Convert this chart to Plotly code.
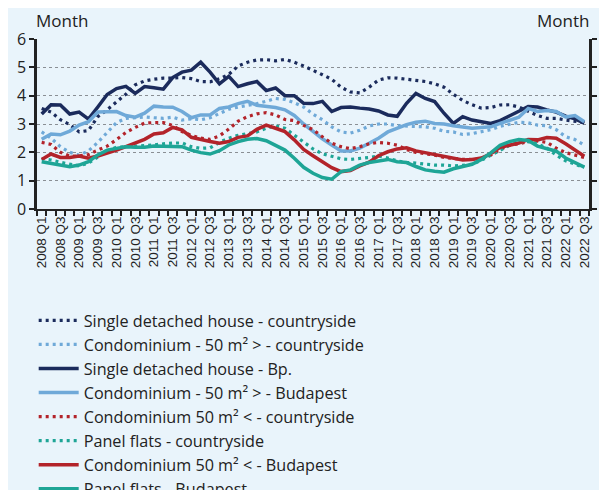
import plotly.graph_objects as go

quarters = [f"{y} Q{q}" for y in range(2008, 2023) for q in range(1, 5)][:59]
tick_labels = quarters[::2]

sdh_country = [3.55, 3.42, 3.15, 2.98, 2.72, 2.77, 3.26, 3.5, 3.78, 4.05, 4.38, 4.52, 4.58, 4.62, 4.62,
               4.64, 4.6, 4.5, 4.49, 4.6, 4.75, 5.05, 5.18, 5.26, 5.27, 5.23, 5.28, 5.18, 5.05, 4.88,
               4.74, 4.58, 4.3, 4.13, 4.1, 4.3, 4.55, 4.63, 4.62, 4.58, 4.55, 4.5, 4.42, 4.3, 4.05,
               3.83, 3.68, 3.56, 3.58, 3.67, 3.68, 3.6, 3.45, 3.3, 3.2, 3.2, 3.14, 3.1, 3.05]
condo_big_country = [2.72, 2.5, 2.2, 2.0, 1.9, 2.05, 2.35, 2.7, 3.05, 3.2, 3.22, 3.25, 3.22, 3.2, 3.24,
                     3.14, 3.18, 3.15, 3.22, 3.38, 3.52, 3.6, 3.65, 3.72, 3.8, 3.9, 3.87, 3.75, 3.6, 3.35,
                     3.15, 2.9, 2.72, 2.68, 2.78, 2.93, 3.0, 3.0, 2.94, 2.93, 2.93, 2.9, 2.85, 2.74, 2.72,
                     2.63, 2.66, 2.73, 2.8, 2.92, 3.0, 3.06, 3.04, 2.96, 2.94, 2.8, 2.55, 2.45, 2.25]
sdh_bp = [3.35, 3.68, 3.67, 3.35, 3.42, 3.17, 3.6, 4.04, 4.25, 4.33, 4.08, 4.32, 4.28, 4.23, 4.64,
          4.83, 4.9, 5.18, 4.83, 4.42, 4.68, 4.32, 4.42, 4.5, 4.18, 4.27, 4.0, 4.0, 3.73, 3.72,
          3.8, 3.44, 3.58, 3.6, 3.56, 3.53, 3.46, 3.32, 3.27, 3.73, 4.08, 3.9, 3.79, 3.38, 3.02,
          3.26, 3.14, 3.08, 3.02, 3.12, 3.27, 3.45, 3.62, 3.6, 3.5, 3.42, 3.28, 3.18, 3.03]
condo_big_bp = [2.46, 2.65, 2.62, 2.75, 2.96, 3.08, 3.42, 3.44, 3.44, 3.3, 3.24, 3.38, 3.63, 3.6, 3.59,
                3.44, 3.22, 3.32, 3.32, 3.55, 3.6, 3.72, 3.8, 3.66, 3.62, 3.58, 3.5, 3.3, 3.0, 2.72,
                2.48, 2.26, 2.05, 2.05, 2.15, 2.32, 2.5, 2.72, 2.85, 2.98, 3.06, 3.1, 3.02, 3.0, 2.94,
                2.88, 2.85, 2.88, 2.9, 3.02, 3.12, 3.24, 3.55, 3.44, 3.48, 3.44, 3.25, 3.3, 3.08]
condo_small_country = [2.35, 2.28, 2.0, 1.87, 1.87, 1.92, 2.08, 2.22, 2.45, 2.7, 2.88, 3.03, 3.05, 3.05, 2.95,
                       2.73, 2.6, 2.5, 2.46, 2.58, 2.82, 3.1, 3.26, 3.36, 3.4, 3.32, 3.16, 3.12, 2.95, 2.8,
                       2.55, 2.32, 2.2, 2.13, 2.2, 2.3, 2.35, 2.32, 2.25, 2.1, 2.0, 1.96, 1.9, 1.82, 1.78,
                       1.75, 1.75, 1.78, 1.9, 2.1, 2.25, 2.3, 2.38, 2.4, 2.35, 2.15, 1.99, 1.9, 1.82]
panel_country = [1.78, 1.73, 1.65, 1.58, 1.52, 1.62, 1.85, 2.05, 2.18, 2.2, 2.2, 2.22, 2.26, 2.3, 2.33,
                 2.33, 2.2, 2.14, 2.16, 2.35, 2.5, 2.6, 2.66, 2.72, 2.85, 2.93, 2.85, 2.6, 2.35, 2.12,
                 1.95, 1.86, 1.77, 1.75, 1.78, 1.82, 1.87, 1.8, 1.7, 1.64, 1.62, 1.58, 1.55, 1.55, 1.52,
                 1.54, 1.58, 1.72, 1.9, 2.05, 2.25, 2.35, 2.38, 2.3, 2.15, 1.9, 1.7, 1.58, 1.47]
condo_small_bp = [1.75, 1.94, 1.82, 1.82, 1.87, 1.79, 1.87, 1.96, 2.08, 2.2, 2.32, 2.46, 2.65, 2.69, 2.88,
                  2.79, 2.53, 2.44, 2.38, 2.32, 2.38, 2.53, 2.58, 2.81, 2.96, 2.85, 2.73, 2.44, 2.1, 1.88,
                  1.68, 1.46, 1.32, 1.36, 1.52, 1.65, 1.88, 2.02, 2.12, 2.16, 2.05, 1.99, 1.92, 1.84, 1.8,
                  1.73, 1.75, 1.8, 1.95, 2.18, 2.25, 2.33, 2.45, 2.44, 2.52, 2.5, 2.3, 2.08, 1.86]
panel_bp = [1.67, 1.61, 1.55, 1.49, 1.55, 1.67, 1.91, 2.08, 2.14, 2.2, 2.18, 2.18, 2.22, 2.22, 2.22,
            2.2, 2.08, 1.99, 1.94, 2.06, 2.26, 2.38, 2.46, 2.49, 2.41, 2.26, 2.08, 1.79, 1.47, 1.26,
            1.11, 1.05, 1.32, 1.38, 1.55, 1.64, 1.69, 1.75, 1.67, 1.64, 1.5, 1.38, 1.33, 1.3, 1.42,
            1.5, 1.58, 1.75, 1.98, 2.25, 2.38, 2.45, 2.42, 2.22, 2.14, 2.04, 1.8, 1.64, 1.48]

NAVY = "#1b2b5c"
LBLUE = "#6fa9d8"
RED = "#b3232a"
TEAL = "#1ea596"
BG = "#e9f4fb"

series = [
    ("Single detached house - countryside", sdh_country, NAVY, "dot"),
    ("Condominium - 50 m² > - countryside", condo_big_country, LBLUE, "dot"),
    ("Single detached house - Bp.", sdh_bp, NAVY, "solid"),
    ("Condominium - 50 m² > - Budapest", condo_big_bp, LBLUE, "solid"),
    ("Condominium 50 m² < - countryside", condo_small_country, RED, "dot"),
    ("Panel flats - countryside", panel_country, TEAL, "dot"),
    ("Condominium 50 m² < - Budapest", condo_small_bp, RED, "solid"),
    ("Panel flats - Budapest", panel_bp, TEAL, "solid"),
]

xs = list(range(len(quarters)))
fig = go.Figure()
for name, vals, col, dash in series:
    fig.add_trace(go.Scatter(
        x=xs, y=vals, name=name, mode="lines",
        line=dict(color=col, width=3.5 if dash == "solid" else 3.2,
                  dash="3px,4px" if dash == "dot" else "solid"),
        customdata=quarters, hovertemplate="%{customdata}: %{y}<extra>" + name + "</extra>",
    ))
# right axis companion
fig.add_trace(go.Scatter(x=[xs[0]], y=[None], yaxis="y2", showlegend=False, hoverinfo="skip"))

tickfont = dict(family="Open Sans, sans-serif", size=16, color="#222")
fig.update_layout(
    width=599, height=482,
    margin=dict(l=29, r=18, t=31, b=281, pad=0, autoexpand=False),
    paper_bgcolor=BG, plot_bgcolor=BG,
    font=dict(family="Open Sans, sans-serif", color="#222"),
    xaxis=dict(
        range=[-0.5, len(quarters) - 0.5], automargin=False,
        tickmode="array", tickvals=xs[::2], ticktext=tick_labels,
        tickangle=-90, ticks="", showgrid=False, zeroline=False,
        tickfont=dict(family="Liberation Sans, Arial, sans-serif", size=13.5, color="#222"),
        showline=True, linecolor="#222", linewidth=2,
        minor=dict(ticks="outside", ticklen=5, tickwidth=1.5, tickcolor="#222",
                   tick0=-0.5, dtick=1, showgrid=False),
    ),
    yaxis=dict(
        range=[0, 6], dtick=1, tick0=0, automargin=False,
        showline=True, linecolor="#222", linewidth=2.5,
        ticks="outside", ticklen=5, tickwidth=2, tickcolor="#222",
        tickfont=tickfont,
        showgrid=True, gridcolor="#8a8f94", gridwidth=1, griddash="dot",
        zeroline=False,
    ),
    yaxis2=dict(
        range=[0, 6], dtick=1, tick0=0, overlaying="y", side="right", automargin=False,
        showline=True, linecolor="#222", linewidth=2.5,
        ticks="outside", ticklen=5, tickwidth=2, tickcolor="#222",
        tickfont=tickfont, showgrid=False, zeroline=False,
    ),
    legend=dict(
        x=-0.006, y=-0.555, xanchor="left", yanchor="top",
        bgcolor="rgba(0,0,0,0)", font=dict(family="Open Sans, sans-serif", size=16.2, color="#222"),
        tracegroupgap=0, itemwidth=40,
    ),
    annotations=[
        dict(text="Month", x=0, y=1, xref="paper", yref="paper", xanchor="left", yanchor="bottom",
             xshift=-3, yshift=5, showarrow=False, font=dict(family="Open Sans, sans-serif", size=17, color="#222")),
        dict(text="Month", x=1, y=1, xref="paper", yref="paper", xanchor="right", yanchor="bottom",
             xshift=2, yshift=5, showarrow=False, font=dict(family="Open Sans, sans-serif", size=17, color="#222")),
    ],
    showlegend=True,
)

fig.write_html("out.html")
